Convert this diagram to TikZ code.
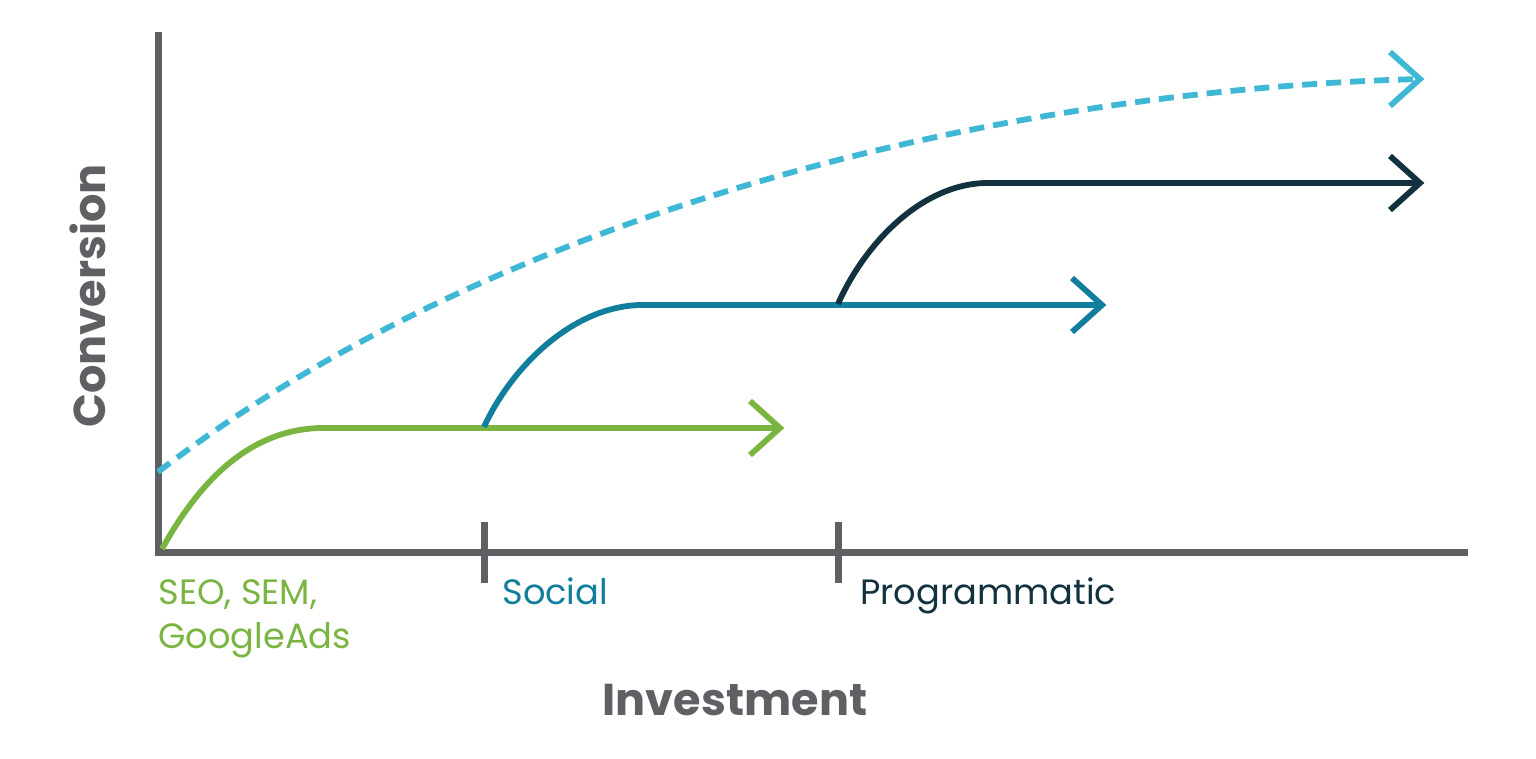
\documentclass[tikz,border=0pt]{standalone}
\usepackage{fontspec}
\setmainfont{Poppins}
\definecolor{axisgrey}{HTML}{5F6063}
\definecolor{cgreen}{HTML}{7AB542}
\definecolor{cteal}{HTML}{117E9E}
\definecolor{cdark}{HTML}{12323F}
\definecolor{clight}{HTML}{3FB8D6}
\begin{document}
\begin{tikzpicture}[x=0.5pt,y=-0.5pt,
  axis/.style={axisgrey,line width=3.5pt},
  curve/.style={line width=2.9pt,line cap=butt},
  lbl/.style={anchor=base west,inner sep=0pt,font=\fontsize{17.6}{20}\selectfont},
  ttl/.style={inner sep=0pt,font=\fontsize{22.3}{26}\selectfont\bfseries,text=axisgrey}]
\useasboundingbox (0,0) rectangle (1536,759);
% axes
\coordinate (o) at (158,552);
\coordinate (ytop) at (158,32);
\coordinate (xend) at (1468,552);
\draw[axis] (ytop) -- (o) -- (xend);
\draw[axis] (484,522) -- (484,583);
\draw[axis] (838,522) -- (838,583);
% dashed
\draw[curve,clight,dash pattern=on 7.5pt off 4.5pt] (158,472) .. controls (500,210) and (1000,90) .. (1420,79);
\draw[curve,clight] (1390,52) -- (1420,79) -- (1390,106);
% green
\draw[curve,cgreen] (162,549) .. controls (200,480) and (250,430) .. (320,428) -- (780,428);
\draw[curve,cgreen] (750,401) -- (780,428) -- (750,455);
% teal
\draw[curve,cteal] (484,427) .. controls (510,370) and (570,307) .. (640,305) -- (1102,305);
\draw[curve,cteal] (1072,278) -- (1102,305) -- (1072,332);
% dark
\draw[curve,cdark] (838,304) .. controls (864,245) and (920,185) .. (985,183) -- (1420,183);
\draw[curve,cdark] (1390,156) -- (1420,183) -- (1390,210);
% labels
\node[lbl,text=cgreen] (l1) at (158,604) {SEO, SEM,};
\node[lbl,text=cgreen] (l2) at (158,648) {GoogleAds};
\node[lbl,text=cteal] (l3) at (502,604) {Social};
\node[lbl,text=cdark] (l4) at (860,604) {Programmatic};
\node[ttl] (xl) at (735,700) {Investment};
\node[ttl,rotate=90] (yl) at (88,296) {Conversion};
\end{tikzpicture}
\end{document}
